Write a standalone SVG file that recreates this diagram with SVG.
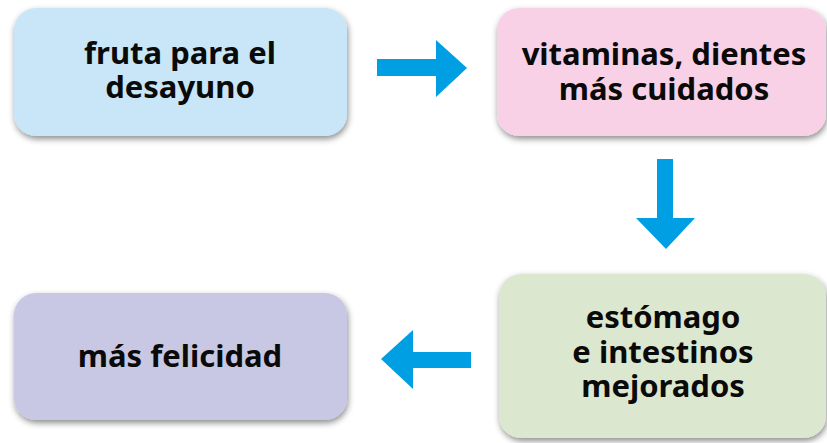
<svg xmlns="http://www.w3.org/2000/svg" width="827" height="443" viewBox="0 0 827 443">
<defs>
<filter id="sh" x="-10%" y="-10%" width="120%" height="130%">
<feDropShadow dx="1" dy="3" stdDeviation="3" flood-color="#000" flood-opacity="0.45"/>
</filter>
<style>
.box{filter:url(#sh);}
.t{font-family:"Noto Sans","DejaVu Sans",sans-serif;font-weight:bold;font-size:31px;fill:#0a0a0a;text-anchor:middle;}
.arr{fill:#009fe3;}
</style>
</defs>
<rect width="827" height="443" fill="#fff"/>
<g id="n1">
<rect class="box" x="14" y="8" width="333" height="128" rx="22" fill="#c8e6f8"/>
<text class="t" x="180" y="64">fruta para el</text>
<text class="t" x="180" y="98">desayuno</text>
</g>
<g id="n2">
<rect class="box" x="497" y="8" width="329" height="128" rx="22" fill="#f8d1e6"/>
<text class="t" x="664" y="65">vitaminas, dientes</text>
<text class="t" x="664" y="100">más cuidados</text>
</g>
<g id="n3">
<rect class="box" x="499" y="274" width="327" height="164" rx="22" fill="#dbe7cf"/>
<text class="t" x="663" y="328">estómago</text>
<text class="t" x="663" y="363">e intestinos</text>
<text class="t" x="663" y="397">mejorados</text>
</g>
<g id="n4">
<rect class="box" x="14" y="293" width="333" height="127" rx="22" fill="#c8c8e4"/>
<text class="t" x="180" y="367">más felicidad</text>
</g>
<g id="connectors">
<polygon class="arr" points="377,59 436,59 436,40 467,68 436,97 436,76 377,76"/>
<polygon class="arr" points="657,159 673,159 673,218 695,218 666,249 636,218 657,218"/>
<polygon class="arr" points="471,352 413,352 413,330 381,359 413,389 413,368 471,368"/>
</g>
</svg>
